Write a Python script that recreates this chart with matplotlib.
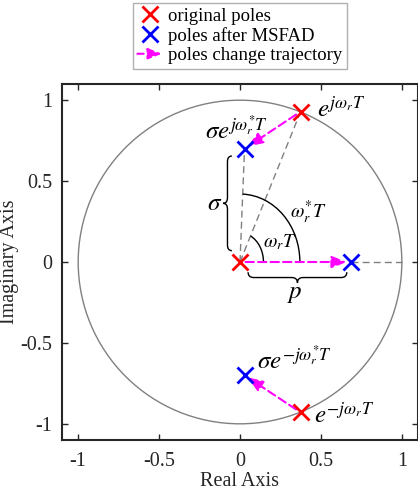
import numpy as np
import matplotlib
matplotlib.use("Agg")
import matplotlib.pyplot as plt
from matplotlib.patches import Arc, Circle, FancyArrowPatch
from matplotlib.path import Path
from matplotlib.patches import PathPatch
from matplotlib.lines import Line2D
from matplotlib.legend_handler import HandlerBase

plt.rcParams['font.family'] = ['Liberation Serif', 'DejaVu Serif']
plt.rcParams['mathtext.fontset'] = 'stix'
plt.rcParams['axes.unicode_minus'] = False

# ---- data ----
orig_re = [0.0, 0.375, 0.375]
orig_im = [0.0, 0.93, -0.93]
new_re = [0.685, 0.028, 0.028]
new_im = [0.0, 0.70, -0.70]
ticks = [-1, -0.5, 0, 0.5, 1]
tick_labels = ['-1', '-0.5', '0', '0.5', '1']
legend_labels = ['original poles', 'poles after MSFAD', 'poles change trajectory']

fig = plt.figure(figsize=(4.18, 4.92), dpi=100)
ax = fig.add_axes([62/418, 52/492, 356/418, 356/492])
ax.set_xlim(-1.1, 1.1)
ax.set_ylim(-1.1, 1.1)

axc = '#262626'
for s in ax.spines.values():
    s.set_color(axc)
    s.set_linewidth(1.5)
ax.tick_params(direction='in', length=4, width=1, top=True, right=True,
               labelsize=14.5, colors=axc, pad=7)
ax.tick_params(axis='x', pad=9)
ax.set_xticks(ticks)
ax.set_xticklabels(tick_labels)
ax.set_yticks(ticks)
ax.set_yticklabels(tick_labels)
ax.set_xlabel('Real Axis', fontsize=14.5, color=axc, labelpad=0)
ax.set_ylabel('Imaginary Axis', fontsize=14.5, color=axc, labelpad=1)

# unit circle
ax.add_patch(Circle((0, 0), 1.0, fill=False, edgecolor='#808080', lw=1.0, zorder=1))

# gray dashed guide lines
gd = dict(color='#808080', lw=1.0, ls=(0, (5, 3)), zorder=2)
ax.plot([orig_re[0], orig_re[1]], [orig_im[0], orig_im[1]], **gd)
ax.plot([orig_re[0], new_re[1]], [orig_im[0], new_im[1]], **gd)
ax.plot([new_re[0], 1.0], [new_im[0], 0.0], **gd)

# arcs
ang_orig = np.degrees(np.arctan2(orig_im[1], orig_re[1]))
ang_new = np.degrees(np.arctan2(new_im[1], new_re[1]))
ax.add_patch(Arc((0, 0), 0.29, 0.36, theta1=0, theta2=ang_orig, color='k', lw=1.0, zorder=3))
ax.add_patch(Arc((0, 0), 0.74, 0.84, theta1=0, theta2=ang_new, color='k', lw=1.0, zorder=3))

# braces
def brace(ax, p0, p1, depth, r):
    p0 = np.array(p0, float); p1 = np.array(p1, float)
    d = p1 - p0
    L = np.linalg.norm(d)
    u = d / L
    n = np.array([-u[1], u[0]]) * depth
    nh = n / 2
    m = (p0 + p1) / 2
    verts = [p0,
             p0 + nh, p0 + nh + u * r,
             m + nh - u * r,
             m + nh, m + n,
             m + nh, m + nh + u * r,
             p1 + nh - u * r,
             p1 + nh, p1]
    codes = [Path.MOVETO,
             Path.CURVE3, Path.CURVE3,
             Path.LINETO,
             Path.CURVE3, Path.CURVE3,
             Path.CURVE3, Path.CURVE3,
             Path.LINETO,
             Path.CURVE3, Path.CURVE3]
    ax.add_patch(PathPatch(Path(verts, codes), fill=False, edgecolor='k', lw=1.0, zorder=3))

brace(ax, (-0.05, 0.07), (-0.05, 0.655), 0.055, 0.035)
brace(ax, (0.05, -0.063), (0.66, -0.063), -0.066, 0.035)

# trajectory arrows
for i in range(3):
    ax.annotate('', xy=(new_re[i], new_im[i]), xytext=(orig_re[i], orig_im[i]),
                arrowprops=dict(arrowstyle='-|>,head_length=0.75,head_width=0.3',
                                color='#FF00FF', lw=1.5, ls=(0, (4, 2)),
                                shrinkA=4, shrinkB=3, mutation_scale=12),
                zorder=4)

# poles
ax.plot(orig_re, orig_im, 'x', color='#FF0000', ms=11, mew=2, zorder=5)
ax.plot(new_re, new_im, 'x', color='#0000FF', ms=11, mew=2, zorder=5)

# labels
ax.text(0.475, 0.895, r'$e^{j\omega_r T}$', fontsize=18, va='baseline', ha='left')
ax.text(-0.215, 0.755, r'$\sigma e^{j\omega_r^{*} T}$', fontsize=18, va='baseline', ha='left')
ax.text(-0.155, 0.36, r'$\sigma$', fontsize=18, va='center', ha='center')
ax.text(0.31, 0.305, r'$\omega_r^{*} T$', fontsize=14, va='center', ha='left')
ax.text(0.14, 0.12, r'$\omega_r T$', fontsize=14, va='center', ha='left')
ax.text(0.34, -0.2, r'$p$', fontsize=18, va='center', ha='center')
ax.text(0.105, -0.665, r'$\sigma e^{-j\omega_r^{*} T}$', fontsize=18, va='baseline', ha='left')
ax.text(0.46, -0.995, r'$e^{-j\omega_r T}$', fontsize=18, va='baseline', ha='left')

# legend
class ArrowHandler(HandlerBase):
    def create_artists(self, legend, orig_handle, xdescent, ydescent, width, height, fontsize, trans):
        y = height / 2 - ydescent
        x0 = -xdescent
        x1 = width - xdescent
        a = FancyArrowPatch((x0, y), (x1, y), arrowstyle='-|>,head_length=0.75,head_width=0.3',
                            color='#FF00FF', lw=1.5, ls=(0, (3, 2)), mutation_scale=11,
                            shrinkA=0, shrinkB=0, transform=trans)
        return [a]

h1 = Line2D([], [], ls='none', marker='x', color='#FF0000', ms=11, mew=2)
h2 = Line2D([], [], ls='none', marker='x', color='#0000FF', ms=11, mew=2)
h3 = object()
leg = fig.legend([h1, h2, h3], legend_labels, loc='upper center',
                 bbox_to_anchor=(240 / 418, 1 - 3 / 492), fontsize=13.5,
                 handler_map={h3: ArrowHandler()}, handlelength=1.3, handletextpad=0.35,
                 labelspacing=0.12, borderpad=0.25, borderaxespad=0, frameon=True,
                 fancybox=False, framealpha=1, edgecolor='#b0b0b0', numpoints=1)
leg.get_frame().set_linewidth(1.0)

fig.savefig('out.png', dpi=100)
